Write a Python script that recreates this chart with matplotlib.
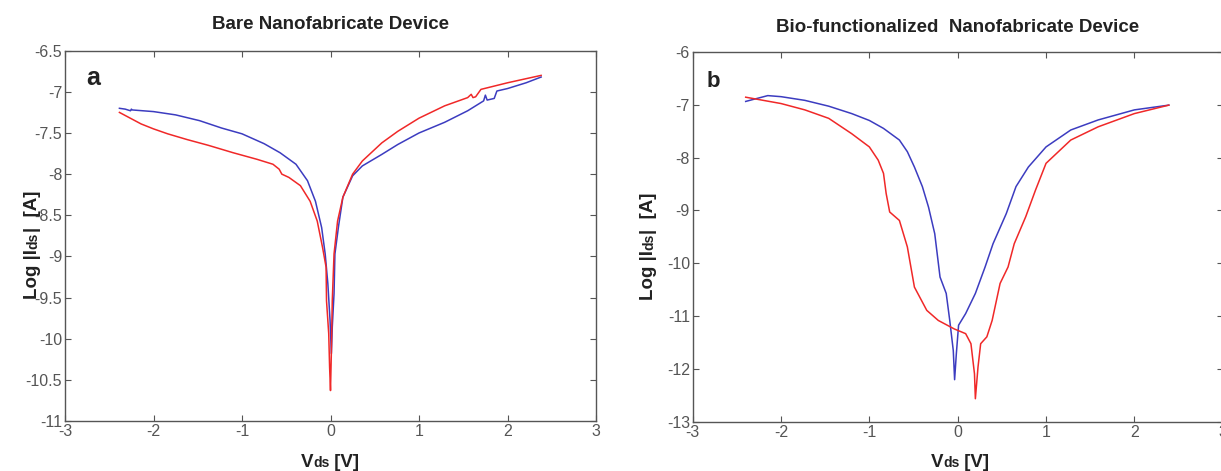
import matplotlib
matplotlib.use('Agg')
import matplotlib.pyplot as plt
import numpy as np

plt.rcParams['font.family'] = ['Liberation Sans', 'DejaVu Sans']
plt.rcParams['axes.unicode_minus'] = False

# ---- bare device (a): forward / reverse sweep, log10 |Ids| ----
bare_blue_v = [-2.385, -2.32, -2.26, -2.25, -2.24, -2.0, -1.75, -1.48, -1.23, -1.0,
               -0.75, -0.57, -0.39, -0.26, -0.17, -0.10, -0.06, -0.03, -0.005, 0.01,
               0.02, 0.04, 0.05, 0.09, 0.14, 0.25, 0.36, 0.58, 0.76, 1.0,
               1.29, 1.55, 1.73, 1.75, 1.77, 1.85, 1.88, 2.0, 2.21, 2.38]
bare_blue_i = [-7.20, -7.21, -7.23, -7.21, -7.22, -7.24, -7.28, -7.35, -7.44, -7.51,
               -7.63, -7.74, -7.88, -8.08, -8.33, -8.65, -8.97, -9.33, -9.78, -10.18,
               -9.86, -9.45, -8.97, -8.64, -8.28, -8.02, -7.90, -7.76, -7.64, -7.50,
               -7.37, -7.23, -7.11, -7.04, -7.10, -7.08, -6.99, -6.96, -6.89, -6.82]

bare_red_v = [-2.385, -2.14, -2.0, -1.84, -1.62, -1.38, -1.1, -0.83, -0.65, -0.58,
              -0.55, -0.47, -0.34, -0.23, -0.15, -0.09, -0.05, -0.045, -0.02, -0.01,
              0.0, 0.01, 0.02, 0.04, 0.08, 0.14, 0.25, 0.36, 0.58, 0.76,
              1.0, 1.29, 1.55, 1.59, 1.61, 1.64, 1.70, 2.0, 2.21, 2.38]
bare_red_i = [-7.25, -7.39, -7.45, -7.51, -7.58, -7.65, -7.74, -7.82, -7.88, -7.94,
              -8.00, -8.04, -8.14, -8.33, -8.57, -8.89, -9.13, -9.54, -9.94, -10.35,
              -10.63, -10.15, -9.54, -8.97, -8.57, -8.28, -8.00, -7.84, -7.62, -7.48,
              -7.32, -7.17, -7.07, -7.03, -7.07, -7.06, -6.97, -6.89, -6.84, -6.80]

# ---- bio-functionalized device (b) ----
bio_blue_v = [-2.40, -2.15, -2.0, -1.73, -1.46, -1.2, -1.0, -0.84, -0.66, -0.57,
              -0.49, -0.40, -0.33, -0.26, -0.20, -0.13, -0.09, -0.05, -0.035, -0.015,
              0.01, 0.09, 0.2, 0.31, 0.4, 0.55, 0.66, 0.8, 1.0, 1.28,
              1.59, 2.0, 2.39]
bio_blue_i = [-6.94, -6.83, -6.85, -6.92, -7.03, -7.17, -7.30, -7.45, -7.67, -7.89,
              -8.18, -8.55, -8.94, -9.44, -10.26, -10.57, -11.08, -11.65, -12.20, -11.70,
              -11.17, -10.95, -10.57, -10.07, -9.63, -9.06, -8.55, -8.18, -7.80, -7.48,
              -7.29, -7.10, -7.01]

bio_red_v = [-2.40, -2.0, -1.73, -1.46, -1.2, -1.0, -0.9, -0.84, -0.81, -0.77,
             -0.66, -0.57, -0.49, -0.35, -0.22, -0.04, 0.09, 0.15, 0.19, 0.20,
             0.23, 0.26, 0.33, 0.39, 0.48, 0.57, 0.64, 0.77, 0.88, 1.0,
             1.28, 1.59, 2.0, 2.39]
bio_red_i = [-6.86, -6.98, -7.10, -7.26, -7.55, -7.80, -8.05, -8.30, -8.68, -9.03,
             -9.19, -9.69, -10.45, -10.89, -11.08, -11.24, -11.33, -11.52, -12.09, -12.56,
             -11.96, -11.52, -11.39, -11.08, -10.38, -10.07, -9.63, -9.12, -8.62, -8.11,
             -7.67, -7.42, -7.17, -7.01]

BLUE = '#3c3cc0'
RED = '#f02828'
TICK_GRAY = '#555555'

fig = plt.figure(figsize=(12.21, 4.71), dpi=100)
W, H = 1221, 471

ax1 = fig.add_axes([65 / W, 50 / H, 531 / W, 370.3 / H])
ax2 = fig.add_axes([692.7 / W, 49 / H, 530 / W, 370.3 / H])


def style_axes(ax, ylim, yticks):
    ax.set_xlim(-3, 3)
    ax.set_ylim(*ylim)
    ax.set_xticks(range(-3, 4))
    ax.set_yticks(yticks)
    ax.set_yticklabels(['%g' % v for v in yticks])
    ax.tick_params(direction='in', top=True, right=True, length=4, width=0.8,
                   color='#555555', labelsize=11.5, labelcolor=TICK_GRAY, pad=2)
    for sp in ax.spines.values():
        sp.set_color('#555555')
        sp.set_linewidth(1.0)


ax1.plot(bare_blue_v, bare_blue_i, color=BLUE, lw=1.1)
ax1.plot(bare_red_v, bare_red_i, color=RED, lw=1.1)
style_axes(ax1, (-11, -6.5), np.arange(-11, -6.4, 0.5))
ax1.set_title('Bare Nanofabricate Device', fontsize=13.5, fontweight='bold',
              color='#222222', pad=15.5)
ax1.text(0.0395, 0.907, 'a', transform=ax1.transAxes, fontsize=18,
         fontweight='bold', color='#222222', ha='left', va='baseline')

ax2.plot(bio_blue_v, bio_blue_i, color=BLUE, lw=1.1)
ax2.plot(bio_red_v, bio_red_i, color=RED, lw=1.1)
style_axes(ax2, (-13, -6), np.arange(-13, -5, 1))
ax2.set_title('Bio-functionalized  Nanofabricate Device', fontsize=13.5,
              fontweight='bold', color='#222222', pad=14.5)
ax2.text(0.0255, 0.905, 'b', transform=ax2.transAxes, fontsize=16,
         fontweight='bold', color='#222222', ha='left', va='baseline')


# axis labels with the smaller "ds" subscript on the same baseline
renderer = fig.canvas.get_renderer()


def parts_label(parts, cx, cy, vertical=False):
    """cx, cy in pixels from bottom-left; the label is centred along its run."""
    rot = 90 if vertical else 0
    texts = []
    for s, size in parts:
        t = fig.text(0, 0, s, fontsize=size, fontweight='bold', color='#222222',
                     rotation=rot, rotation_mode='anchor', ha='left', va='baseline')
        texts.append(t)
    lens = []
    for t in texts:
        bb = t.get_window_extent(renderer)
        lens.append(bb.height if vertical else bb.width)
    pos = (cy if vertical else cx) - sum(lens) / 2
    for t, L in zip(texts, lens):
        if vertical:
            t.set_position((cx / W, pos / H))
        else:
            t.set_position((pos / W, cy / H))
        pos += L


ylab = [('Log |I', 13.5), ('ds', 10), ('|  [A]', 13.5)]
xlab = [('V', 13.5), ('ds', 10), (' [V]', 13.5)]

parts_label(ylab, 37, H - 245, vertical=True)
parts_label(ylab, 653, H - 246, vertical=True)
parts_label(xlab, 330, 4)
parts_label(xlab, 960, 4)

fig.savefig('out.png', dpi=100)
